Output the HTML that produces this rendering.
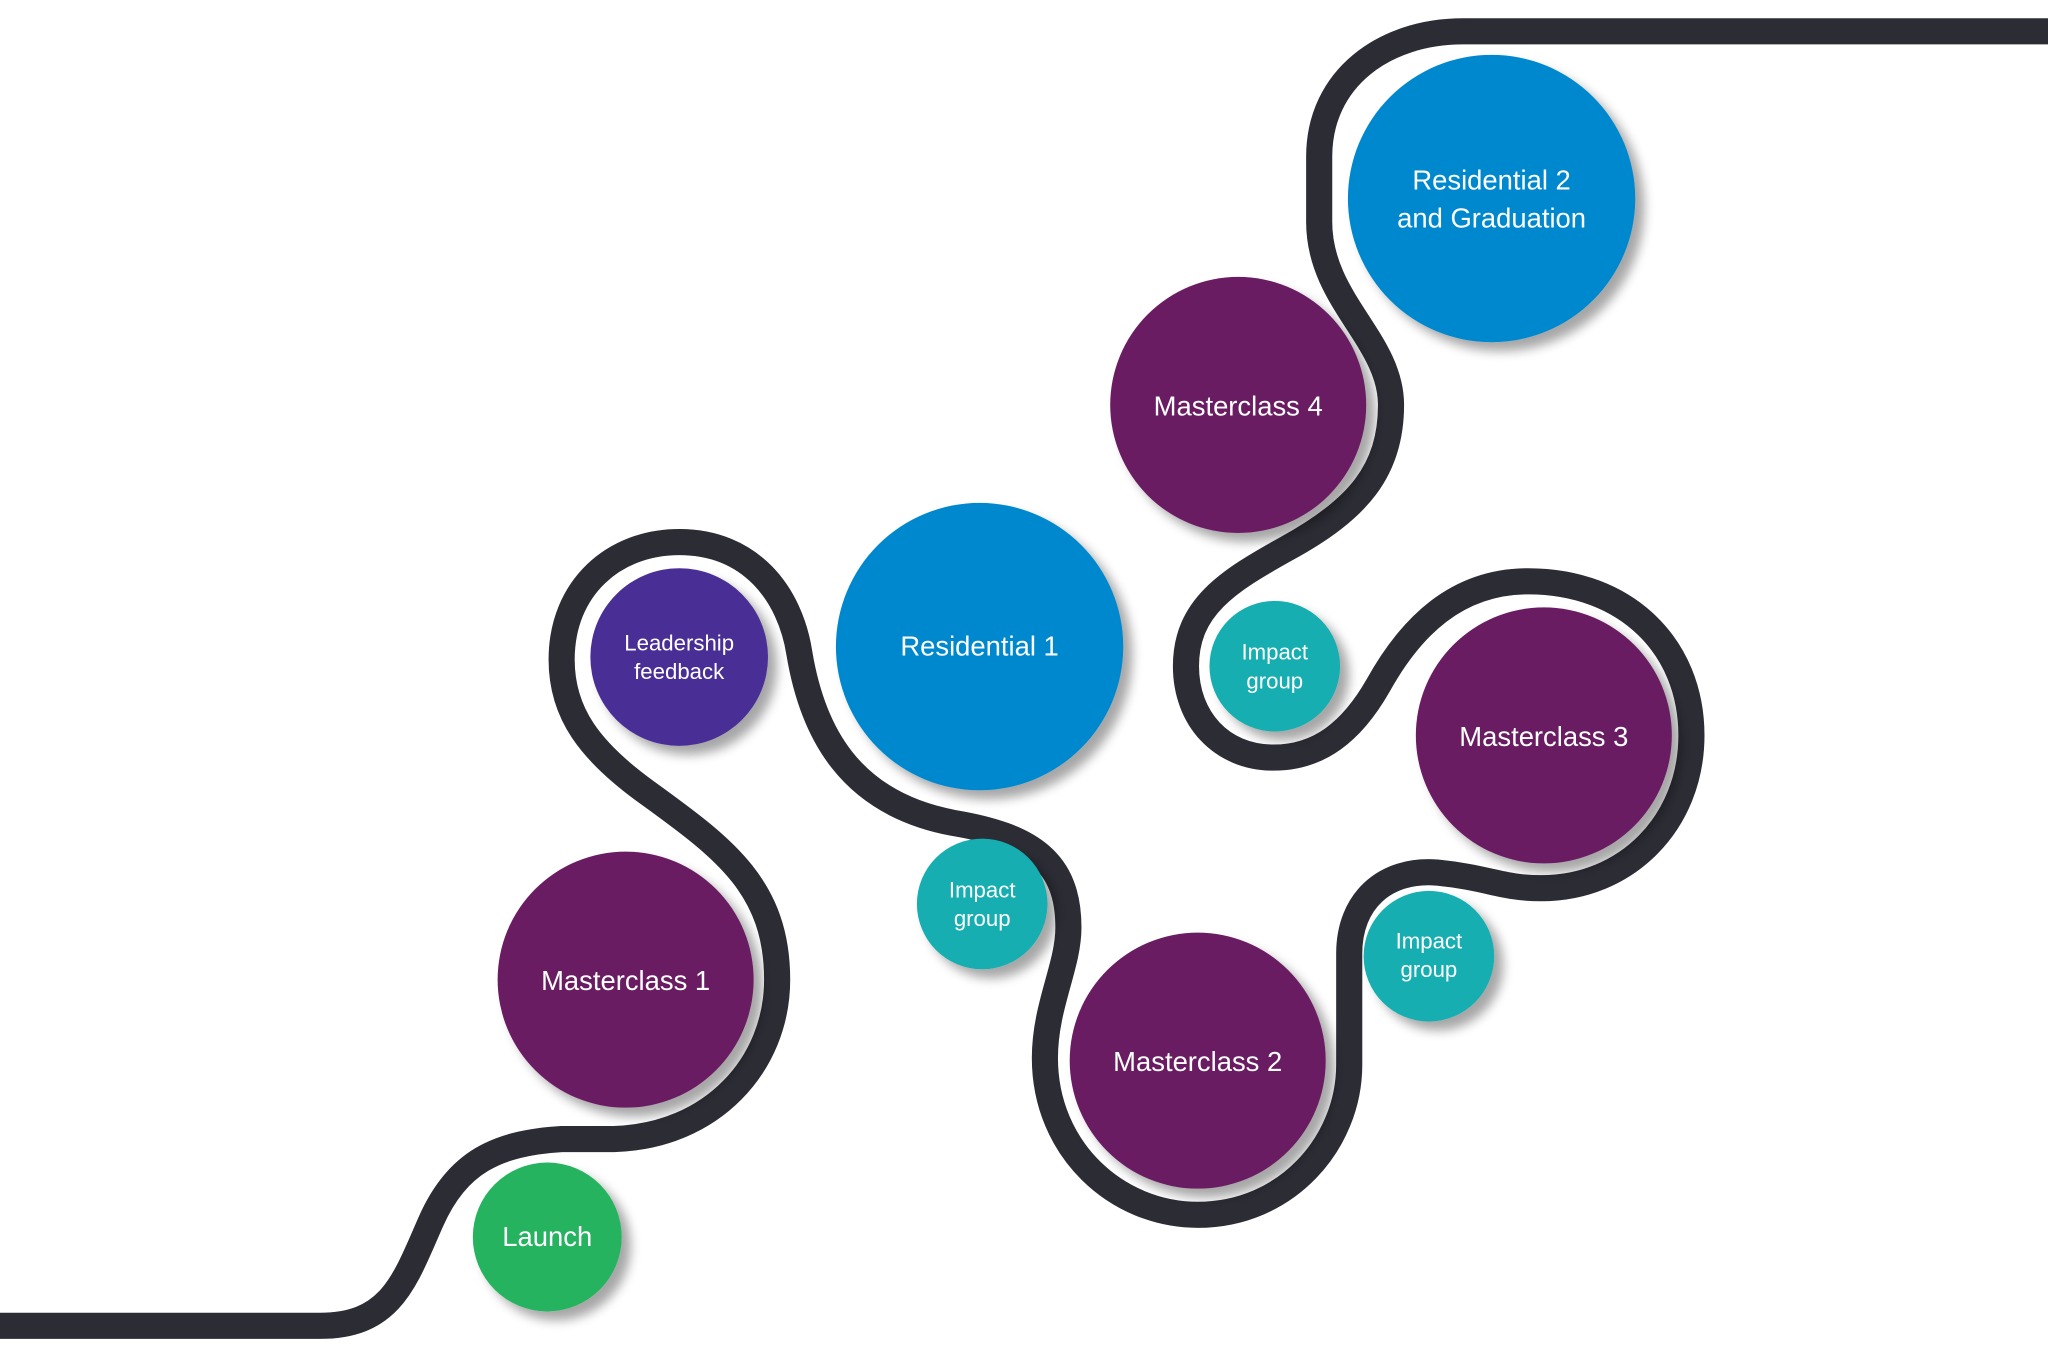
<!DOCTYPE html>
<html><head><meta charset="utf-8"><style>
html,body{margin:0;padding:0;background:#fff;}
svg{display:block;}
text{font-family:"Liberation Sans",sans-serif;fill:#fff;text-anchor:middle;}
</style></head><body>
<svg width="2048" height="1365" viewBox="0 0 1568 1045" preserveAspectRatio="none" xmlns="http://www.w3.org/2000/svg">
<defs>
<filter id="sh" x="-30%" y="-30%" width="160%" height="160%">
<feGaussianBlur in="SourceAlpha" stdDeviation="4"/>
<feOffset dx="7" dy="7" result="o"/>
<feComponentTransfer><feFuncA type="linear" slope="0.35"/></feComponentTransfer>
<feMerge><feMergeNode/><feMergeNode in="SourceGraphic"/></feMerge>
</filter>
</defs>
<path d="M0,1015 H245 C300,1015 310,980 330,935 C350,890 380,875 430,872 L470,872 C545,870 595,815 595,750 C595,680 555,650 500,610 C450,575 430,545 430,505 C430,450 470,415 520,415 C575,415 605,455 612,500 C622,560 650,615 730,630 C790,640 818,660 818,710 C818,740 800,770 800,810 C800,880 855,930 917,930 C985,930 1033,875 1033,815 L1033,730 C1033,690 1060,665 1100,668 C1140,672 1150,680 1180,680 C1245,680 1295,630 1295,563 C1295,495 1245,445 1170,445 C1115,445 1080,480 1055,525 C1035,560 1010,580 975,580 C935,580 908,550 908,510 C908,465 940,445 985,420 C1040,390 1065,360 1065,310 C1065,260 1010,230 1010,170 L1010,120 C1010,60 1060,24 1120,24 H1568" fill="none" stroke="#2c2c35" stroke-width="20"/>
<g filter="url(#sh)">
<circle cx="1142" cy="152" r="110" fill="#0288cf"/>
<circle cx="948" cy="310" r="98" fill="#6a1d62"/>
<circle cx="750" cy="495" r="110" fill="#0288cf"/>
<circle cx="520" cy="503" r="68" fill="#4a2f96"/>
<circle cx="976" cy="510" r="50" fill="#17aeb0"/>
<circle cx="1182" cy="563" r="98" fill="#6a1d62"/>
<circle cx="752" cy="692" r="50" fill="#17aeb0"/>
<circle cx="1094" cy="732" r="50" fill="#17aeb0"/>
<circle cx="479" cy="750" r="98" fill="#6a1d62"/>
<circle cx="917" cy="812" r="98" fill="#6a1d62"/>
<circle cx="419" cy="947" r="57" fill="#27b35f"/>
</g>
<text x="1142" y="145" font-size="21">Residential 2</text>
<text x="1142" y="174" font-size="21">and Graduation</text>
<text x="948" y="318" font-size="21">Masterclass 4</text>
<text x="750" y="502" font-size="21">Residential 1</text>
<text x="520" y="498" font-size="17">Leadership</text>
<text x="520" y="520" font-size="17">feedback</text>
<text x="976" y="505" font-size="17">Impact</text>
<text x="976" y="527" font-size="17">group</text>
<text x="1182" y="571" font-size="21">Masterclass 3</text>
<text x="752" y="687" font-size="17">Impact</text>
<text x="752" y="709" font-size="17">group</text>
<text x="1094" y="726" font-size="17">Impact</text>
<text x="1094" y="748" font-size="17">group</text>
<text x="479" y="758" font-size="21">Masterclass 1</text>
<text x="917" y="820" font-size="21">Masterclass 2</text>
<text x="419" y="954" font-size="21">Launch</text>
</svg>
</body></html>
